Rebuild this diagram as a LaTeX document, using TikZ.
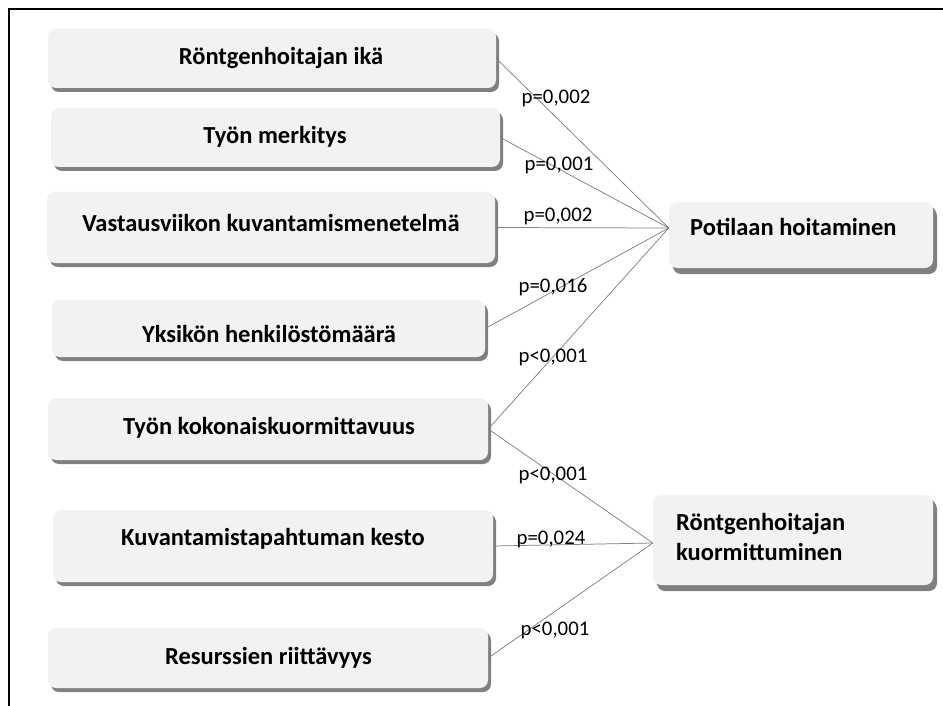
\documentclass[tikz,border=0pt]{standalone}
\usepackage{fontspec}
\setmainfont{Carlito}
\usetikzlibrary{shadows}
\definecolor{boxfill}{HTML}{F2F2F2}
\definecolor{shadowgray}{HTML}{808080}
\definecolor{linkgray}{HTML}{808080}
\begin{document}
\begin{tikzpicture}[x=1pt,y=-1pt,
  box/.style={rounded corners=8pt, fill=boxfill, draw=none, inner sep=0pt,
    general shadow={fill=shadowgray, shadow xshift=3pt, shadow yshift=-4pt}},
  bigbox/.style={box, general shadow={fill=shadowgray, shadow xshift=4pt, shadow yshift=-6pt}},
  boxtext/.style={font=\fontsize{24.5}{30}\selectfont\bfseries, inner sep=0pt},
  plabel/.style={font=\fontsize{20.8}{24}\selectfont, inner sep=0pt},
  link/.style={draw=linkgray, line width=0.75pt}]
\useasboundingbox (0,0) rectangle (943,706);

% frame
\draw[line width=2pt] (9,706) -- (9,9) -- (943,9);

% factor boxes
\node[box, minimum width=448pt, minimum height=59pt] (b1) at (272,58.5) {};
\node[box, minimum width=449pt, minimum height=59pt] (b2) at (275.5,137.5) {};
\node[box, minimum width=448pt, minimum height=71pt] (b3) at (271,227.5) {};
\node[box, minimum width=433pt, minimum height=57pt] (b4) at (268.5,328.5) {};
\node[box, minimum width=440pt, minimum height=62pt] (b5) at (268,429) {};
\node[box, minimum width=440pt, minimum height=72pt] (b6) at (273,546) {};
\node[box, minimum width=440pt, minimum height=60pt] (b7) at (268,658) {};

\node[boxtext] (t1) at (281,58) {Röntgenhoitajan ikä};
\node[boxtext] (t2) at (275,137) {Työn merkitys};
\node[boxtext] (t3) at (271,223) {Vastausviikon kuvantamismenetelmä};
\node[boxtext] (t4) at (269,334) {Yksikön henkilöstömäärä};
\node[boxtext] (t5) at (269,428) {Työn kokonaiskuormittavuus};
\node[boxtext] (t6) at (273,539) {Kuvantamistapahtuman kesto};
\node[boxtext] (t7) at (268.5,658) {Resurssien riittävyys};

% outcome boxes
\node[bigbox, minimum width=264pt, minimum height=66pt] (pot) at (801,235) {};
\node[bigbox, minimum width=280pt, minimum height=90pt] (ron) at (793,540) {};
\node[boxtext, anchor=base west] (tpot) at (690,236) {Potilaan hoitaminen};
\node[boxtext, anchor=west, align=left] (tron) at (676,537) {Röntgenhoitajan\\kuormittuminen};

% connectors
\draw[link] (b1.east) -- ([yshift=7pt]pot.west);
\draw[link] (b2.east) -- ([yshift=7pt]pot.west);
\draw[link] (b3.east) -- ([yshift=7pt]pot.west);
\draw[link] (b4.east) -- ([yshift=7pt]pot.west);
\draw[link] (b5.east) -- ([yshift=7pt]pot.west);
\draw[link] (b5.east) -- ([yshift=-3pt]ron.west);
\draw[link] (b6.east) -- ([yshift=-3pt]ron.west);
\draw[link] (b7.east) -- ([yshift=-3pt]ron.west);

% p-values
\node[plabel] (l1) at (556,98) {p=0,002};
\node[plabel] (l2) at (559,165) {p=0,001};
\node[plabel] (l3) at (558,216) {p=0,002};
\node[plabel] (l4) at (553,287) {p=0,016};
\node[plabel] (l5) at (553,357) {p<0,001};
\node[plabel] (l6) at (553,475) {p<0,001};
\node[plabel] (l7) at (551,539) {p=0,024};
\node[plabel] (l8) at (555,630) {p<0,001};
\end{tikzpicture}
\end{document}
